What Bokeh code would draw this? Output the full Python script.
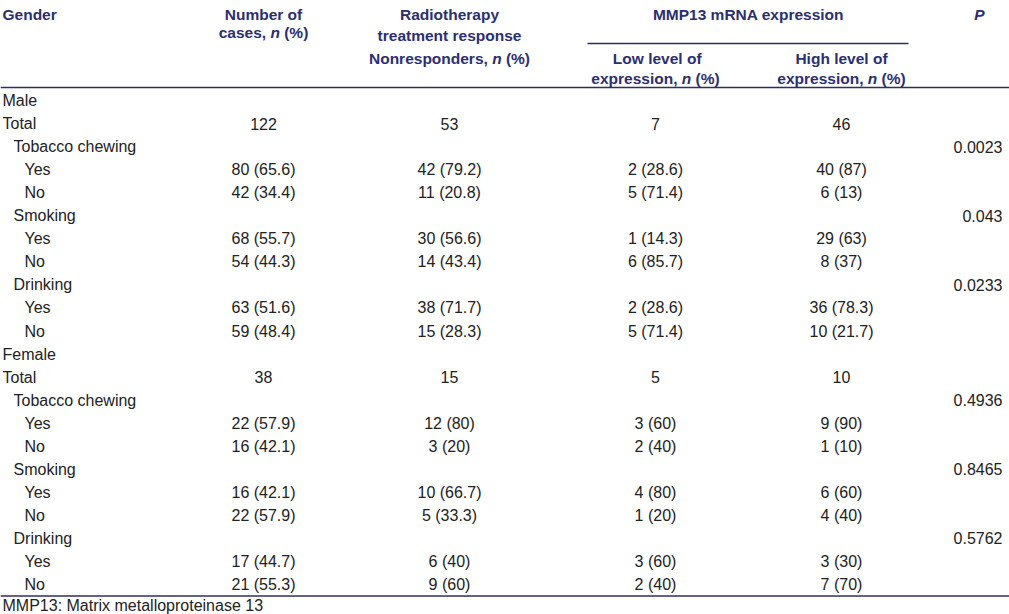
from bokeh.plotting import figure
from bokeh.models import Range1d, ColumnDataSource
from bokeh.core.properties import value
from bokeh.embed import file_html
from bokeh.resources import INLINE

# ---------------- data ----------------
row_labels = ["Male", "Total", "Tobacco chewing", "Yes", "No", "Smoking", "Yes", "No",
              "Drinking", "Yes", "No",
              "Female", "Total", "Tobacco chewing", "Yes", "No", "Smoking", "Yes", "No",
              "Drinking", "Yes", "No"]
row_indent = [0, 0, 1, 2, 2, 1, 2, 2, 1, 2, 2, 0, 0, 1, 2, 2, 1, 2, 2, 1, 2, 2]
cases = ["", "122", "", "80 (65.6)", "42 (34.4)", "", "68 (55.7)", "54 (44.3)", "",
         "63 (51.6)", "59 (48.4)", "", "38", "", "22 (57.9)", "16 (42.1)", "",
         "16 (42.1)", "22 (57.9)", "", "17 (44.7)", "21 (55.3)"]
nonresp = ["", "53", "", "42 (79.2)", "11 (20.8)", "", "30 (56.6)", "14 (43.4)", "",
           "38 (71.7)", "15 (28.3)", "", "15", "", "12 (80)", "3 (20)", "",
           "10 (66.7)", "5 (33.3)", "", "6 (40)", "9 (60)"]
low_expr = ["", "7", "", "2 (28.6)", "5 (71.4)", "", "1 (14.3)", "6 (85.7)", "",
            "2 (28.6)", "5 (71.4)", "", "5", "", "3 (60)", "2 (40)", "",
            "4 (80)", "1 (20)", "", "3 (60)", "2 (40)"]
high_expr = ["", "46", "", "40 (87)", "6 (13)", "", "29 (63)", "8 (37)", "",
             "36 (78.3)", "10 (21.7)", "", "10", "", "9 (90)", "1 (10)", "",
             "6 (60)", "4 (40)", "", "3 (30)", "7 (70)"]
p_values = ["", "", "0.0023", "", "", "0.043", "", "", "0.0233", "", "", "", "",
            "0.4936", "", "", "0.8465", "", "", "0.5762", "", ""]
footnote = "MMP13: Matrix metalloproteinase 13"

# ---------------- layout ----------------
FIG_W, FIG_H = 1009, 614
X0, X1 = 0, FIG_W
Y0, Y1 = 0, FIG_H
XS = (X1 - X0) / FIG_W  # data units per px

FONT = "Liberation Sans"
BODY_SIZE = 16
HEAD_SIZE = 15.5
HEAD_COL = "#2b2f72"
LINE_COL = "#2e2f5e"
BODY_COL = "#222222"

ROW_Y0 = 100.0
ROW_PITCH = 23.05

COL_CASES = 263
COL_NONRESP = 449
COL_LOW = 655
COL_HIGH = 841
COL_P_RIGHT = 1002
COL_P_HEAD = 979

p = figure(width=FIG_W, height=FIG_H, output_backend="svg", toolbar_location=None,
           x_range=Range1d(X0, X1), y_range=Range1d(Y1, Y0), min_border=0)
p.axis.visible = False
p.grid.visible = False
p.outline_line_color = None
p.background_fill_color = "white"
p.border_fill_color = "white"

n = len(row_labels)
ys = [ROW_Y0 + i * ROW_PITCH for i in range(n)]

# row labels
src_lab = ColumnDataSource(dict(x=[2 + 11 * k for k in row_indent], y=ys, t=row_labels))
p.text(x="x", y="y", text="t", source=src_lab, text_font=value(FONT),
       text_font_size=f"{BODY_SIZE}px", text_color=BODY_COL, text_align="left",
       text_baseline="middle")

for col, cx in [(cases, COL_CASES), (nonresp, COL_NONRESP), (low_expr, COL_LOW),
                (high_expr, COL_HIGH)]:
    src = ColumnDataSource(dict(x=[cx] * n, y=ys, t=col))
    p.text(x="x", y="y", text="t", source=src, text_font=value(FONT),
           text_font_size=f"{BODY_SIZE}px", text_color=BODY_COL, text_align="center",
           text_baseline="middle")

src_p = ColumnDataSource(dict(x=[COL_P_RIGHT] * n, y=ys, t=p_values))
p.text(x="x", y="y", text="t", source=src_p, text_font=value(FONT),
       text_font_size=f"{BODY_SIZE}px", text_color=BODY_COL, text_align="right",
       text_baseline="middle")

# ---------------- header ----------------
BOLD_W = {' ': 278, '(': 333, ')': 333, '%': 889, ',': 278, '.': 278,
          'A': 722, 'B': 722, 'C': 722, 'D': 722, 'E': 667, 'F': 611, 'G': 778, 'H': 722,
          'I': 278, 'L': 611, 'M': 833, 'N': 722, 'O': 778, 'P': 667, 'R': 722, 'S': 667,
          'T': 611, 'a': 556, 'b': 611, 'c': 556, 'd': 611, 'e': 556, 'f': 333, 'g': 611,
          'h': 611, 'i': 278, 'l': 278, 'm': 889, 'n': 611, 'o': 611, 'p': 611, 'r': 389,
          's': 556, 't': 333, 'u': 611, 'v': 556, 'x': 556, 'y': 556,
          '0': 556, '1': 556, '2': 556, '3': 556, '4': 556, '5': 556, '6': 556, '7': 556,
          '8': 556, '9': 556}


def bw(s):
    return sum(BOLD_W.get(c, 556) for c in s) / 1000.0 * HEAD_SIZE * XS


def head(parts, cx, y, align="center"):
    total = sum(bw(t) for t, _ in parts)
    x = cx - total / 2 if align == "center" else cx
    for t, it in parts:
        lead = len(t) - len(t.lstrip(" "))
        st = t.strip(" ")
        if st:
            p.text(x=[x + bw(" " * lead)], y=[y], text=[st], text_font=value(FONT),
                   text_font_size=f"{HEAD_SIZE}px",
                   text_font_style="bold italic" if it else "bold",
                   text_color=HEAD_COL, text_align="left", text_baseline="middle")
        x += bw(t)


head([("Gender", False)], 2, 14, align="left")
head([("Number of", False)], COL_CASES, 14)
head([("cases, ", False), ("n", True), (" (%)", False)], COL_CASES, 32)
head([("Radiotherapy", False)], COL_NONRESP, 14)
head([("treatment response", False)], COL_NONRESP, 35)
head([("Nonresponders, ", False), ("n", True), (" (%)", False)], COL_NONRESP, 58)
head([("MMP13 mRNA expression", False)], 748, 14)
head([("Low level of", False)], COL_LOW, 58)
head([("expression, ", False), ("n", True), (" (%)", False)], COL_LOW, 78)
head([("High level of", False)], COL_HIGH, 58)
head([("expression, ", False), ("n", True), (" (%)", False)], COL_HIGH, 78)
head([("P", True)], COL_P_HEAD, 14)

# rules
p.segment(x0=[587, X0, X0], y0=[43, 87, 595.5], x1=[908, X1, X1], y1=[43, 87, 595.5],
          line_color=LINE_COL, line_width=1.5)

# footnote
p.text(x=[2], y=[605], text=[footnote], text_font=value(FONT),
       text_font_size=f"{BODY_SIZE}px", text_color=BODY_COL, text_align="left",
       text_baseline="middle")

open("out.html", "w").write(file_html(p, INLINE))
